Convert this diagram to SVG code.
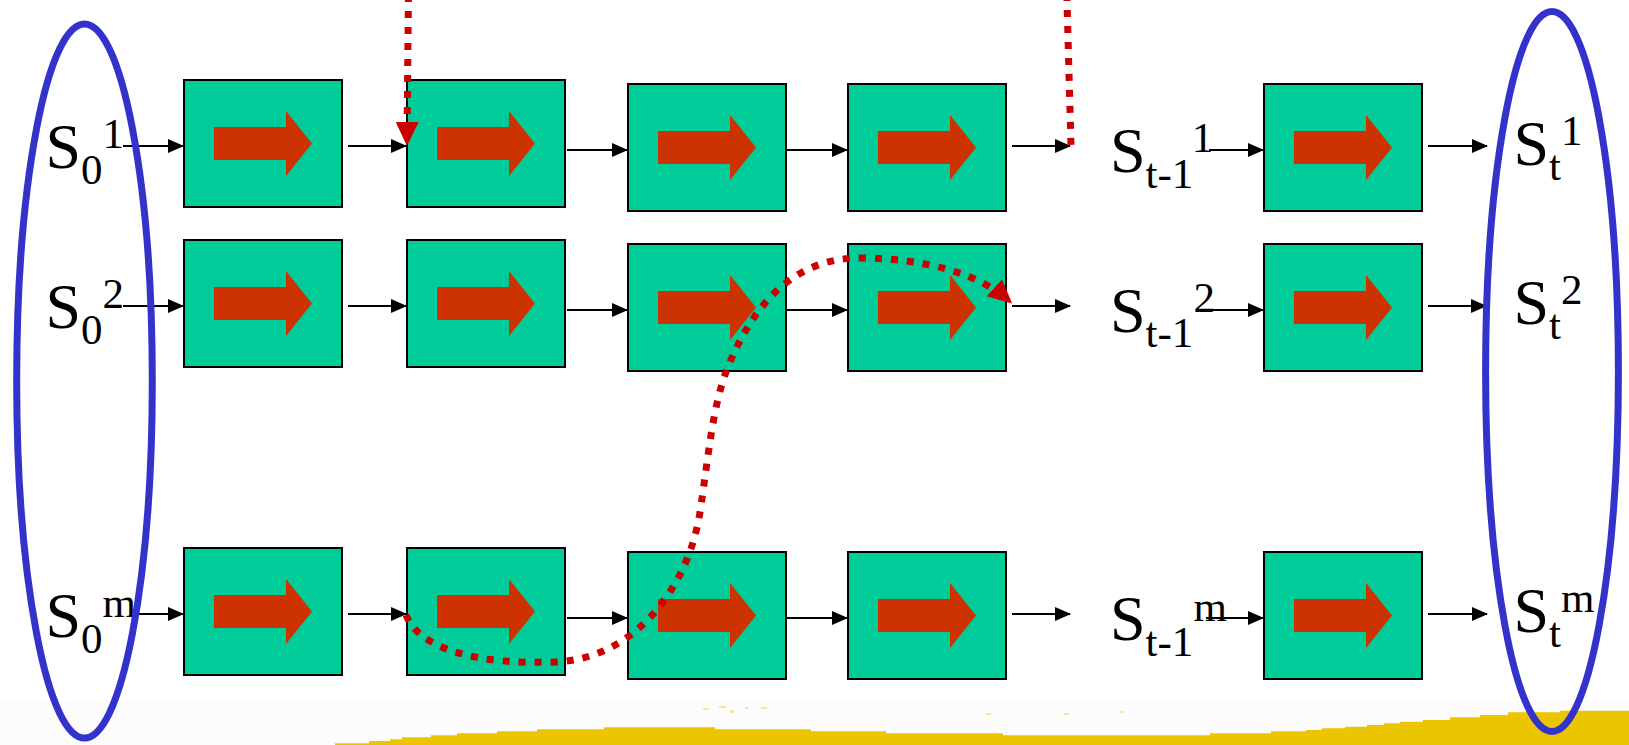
<svg xmlns="http://www.w3.org/2000/svg" xmlns:xlink="http://www.w3.org/1999/xlink" width="1629" height="745" viewBox="0 0 1629 745">
  <style>
    .lbl { font-family: "Liberation Serif", "Times New Roman", serif; font-size: 64px; fill: #000; }
    .sm { font-size: 43px; }
    .link { stroke: #000; stroke-width: 2; fill: none; marker-end: url(#tip); }
    .jump { stroke: #CC0000; stroke-width: 7; fill: none; stroke-dasharray: 7 9; }
    .group { fill: none; stroke: #3333CC; stroke-width: 7; }
  </style>
  <defs>
    <marker id="tip" markerUnits="userSpaceOnUse" viewBox="0 0 16 14" markerWidth="16" markerHeight="14" refX="15" refY="7" orient="auto">
      <path d="M0,0 L16,7 L0,14 z" fill="#000"/>
    </marker>
    <marker id="redTip" markerUnits="userSpaceOnUse" viewBox="0 0 24 23" markerWidth="24" markerHeight="23" refX="17" refY="11.5" orient="auto">
      <path d="M0,0 L24,11.5 L0,23 z" fill="#CC0000"/>
    </marker>
    <!-- one processing block: green square with an orange right arrow -->
    <g id="block">
      <rect x="1" y="1" width="158" height="127" fill="#00CC99" stroke="#000" stroke-width="2"/>
      <polygon points="31,48 103,48 103,32 129,64.5 103,97 103,81 31,81" fill="#CC3300"/>
    </g>
  </defs>

  <rect width="1629" height="745" fill="#FFFFFF"/>
  <rect x="0" y="700" width="1629" height="45" fill="#FCFCFC"/>

  <!-- bottom band -->
  <g id="band">
    <polygon fill="#EAC500" points="335,745 335,743.3 369,743.3 369,741 390,741 390,739.3 402,739.3 402,737.3 431,737.3 431,735.3 457,735.3 457,733.3 497,733.3 497,731.3 537,731.3 537,729.3 604,729.3 604,727.3 715,727.3 715,729.3 811,729.3 811,731.3 886,731.3 886,733.3 1003,733.3 1003,735.3 1210,735.3 1210,733.3 1271,733.3 1271,731.3 1306,731.3 1306,730 1322,730 1322,728.3 1345,728.3 1345,726.7 1367,726.7 1367,725 1384,725 1384,723.3 1400,723.3 1400,721.7 1423,721.7 1423,720 1450,720 1450,717.3 1480,717.3 1480,715 1508,715 1508,712.3 1560,712.3 1560,710.7 1629,710.7 1629,745"/>
    <g fill="#F7E2A0">
      <rect x="703" y="708" width="6" height="2"/>
      <rect x="719" y="706" width="7" height="2"/>
      <rect x="730" y="710" width="4" height="3"/>
      <rect x="745" y="707" width="4" height="2"/>
      <rect x="761" y="707" width="6" height="2"/>
      <rect x="986" y="713" width="5" height="2"/>
      <rect x="1064" y="713" width="5" height="2"/>
      <rect x="1119" y="711" width="5" height="2"/>
    </g>
  </g>

  <!-- blocks, row 1 -->
  <g id="b1-1"><use xlink:href="#block" x="183" y="79"/></g>
  <g id="b1-2"><use xlink:href="#block" x="406" y="79"/></g>
  <g id="b1-3"><use xlink:href="#block" x="627" y="83"/></g>
  <g id="b1-4"><use xlink:href="#block" x="847" y="83"/></g>
  <g id="b1-5"><use xlink:href="#block" x="1263" y="83"/></g>
  <!-- blocks, row 2 -->
  <g id="b2-1"><use xlink:href="#block" x="183" y="239"/></g>
  <g id="b2-2"><use xlink:href="#block" x="406" y="239"/></g>
  <g id="b2-3"><use xlink:href="#block" x="627" y="243"/></g>
  <g id="b2-4"><use xlink:href="#block" x="847" y="243"/></g>
  <g id="b2-5"><use xlink:href="#block" x="1263" y="243"/></g>
  <!-- blocks, row m -->
  <g id="bm-1"><use xlink:href="#block" x="183" y="547"/></g>
  <g id="bm-2"><use xlink:href="#block" x="406" y="547"/></g>
  <g id="bm-3"><use xlink:href="#block" x="627" y="551"/></g>
  <g id="bm-4"><use xlink:href="#block" x="847" y="551"/></g>
  <g id="bm-5"><use xlink:href="#block" x="1263" y="551"/></g>

  <!-- state labels -->
  <g id="s0-1"><text class="lbl" x="45.5" y="168">S<tspan class="sm" dy="15.5">0</tspan><tspan class="sm" dy="-35.5">1</tspan></text></g>
  <g id="s0-2"><text class="lbl" x="45.5" y="328">S<tspan class="sm" dy="15.5">0</tspan><tspan class="sm" dy="-35.5">2</tspan></text></g>
  <g id="s0-m"><text class="lbl" x="45.5" y="637">S<tspan class="sm" dy="15.5">0</tspan><tspan class="sm" dy="-35.5">m</tspan></text></g>
  <g id="st1-1"><text class="lbl" x="1110" y="171.5">S<tspan class="sm" dy="16">t-1</tspan><tspan class="sm" dy="-36">1</tspan></text></g>
  <g id="st1-2"><text class="lbl" x="1110" y="331.5">S<tspan class="sm" dy="15.5">t-1</tspan><tspan class="sm" dy="-35.5">2</tspan></text></g>
  <g id="st1-m"><text class="lbl" x="1110" y="640">S<tspan class="sm" dy="15.5">t-1</tspan><tspan class="sm" dy="-35">m</tspan></text></g>
  <g id="st-1"><text class="lbl" x="1513.5" y="164.5">S<tspan class="sm" dy="15.5">t</tspan><tspan class="sm" dy="-35">1</tspan></text></g>
  <g id="st-2"><text class="lbl" x="1513.5" y="323.5">S<tspan class="sm" dy="15.5">t</tspan><tspan class="sm" dy="-35">2</tspan></text></g>
  <g id="st-m"><text class="lbl" x="1513.5" y="631.5">S<tspan class="sm" dy="15.5">t</tspan><tspan class="sm" dy="-35">m</tspan></text></g>

  <!-- connectors -->
  <g id="connectors">
    <line class="link" x1="123" y1="146" x2="183" y2="146"/>
    <line class="link" x1="348" y1="146" x2="406" y2="146"/>
    <line class="link" x1="567" y1="150" x2="627" y2="150"/>
    <line class="link" x1="787" y1="150" x2="847" y2="150"/>
    <line class="link" x1="1012" y1="146" x2="1070" y2="146"/>
    <line class="link" x1="1209" y1="150" x2="1263" y2="150"/>
    <line class="link" x1="1428" y1="146" x2="1487" y2="146"/>

    <line class="link" x1="123" y1="306" x2="183" y2="306"/>
    <line class="link" x1="348" y1="306" x2="406" y2="306"/>
    <line class="link" x1="567" y1="310" x2="627" y2="310"/>
    <line class="link" x1="787" y1="310" x2="847" y2="310"/>
    <line class="link" x1="1012" y1="306" x2="1070" y2="306"/>
    <line class="link" x1="1212" y1="310" x2="1263" y2="310"/>
    <line class="link" x1="1428" y1="306" x2="1486" y2="306"/>

    <line class="link" x1="134" y1="614" x2="183" y2="614"/>
    <line class="link" x1="348" y1="614" x2="406" y2="614"/>
    <line class="link" x1="567" y1="618" x2="627" y2="618"/>
    <line class="link" x1="787" y1="618" x2="847" y2="618"/>
    <line class="link" x1="1012" y1="614" x2="1070" y2="614"/>
    <line class="link" x1="1206" y1="618" x2="1263" y2="618"/>
    <line class="link" x1="1428" y1="614" x2="1487" y2="614"/>

    <!-- dotted red jumps -->
    <path class="jump" d="M1066.8,-6 L1071,146"/>
    <path class="jump" d="M408.5,-10 L407,139" stroke-dashoffset="11" marker-end="url(#redTip)"/>
    <path class="jump" d="M406,615 C420,650 480,665 556,662 C640,658 690,580 700,512 C708,460 712,410 726,372 C750,310 790,258 860,258 C930,258 982,277 1007,299" marker-end="url(#redTip)"/>
  </g>

  <!-- group ellipses -->
  <g id="initial-states"><ellipse class="group" cx="84.5" cy="381" rx="67.8" ry="357"/></g>
  <g id="final-states"><ellipse class="group" cx="1552" cy="371.6" rx="66.4" ry="360"/></g>
</svg>
